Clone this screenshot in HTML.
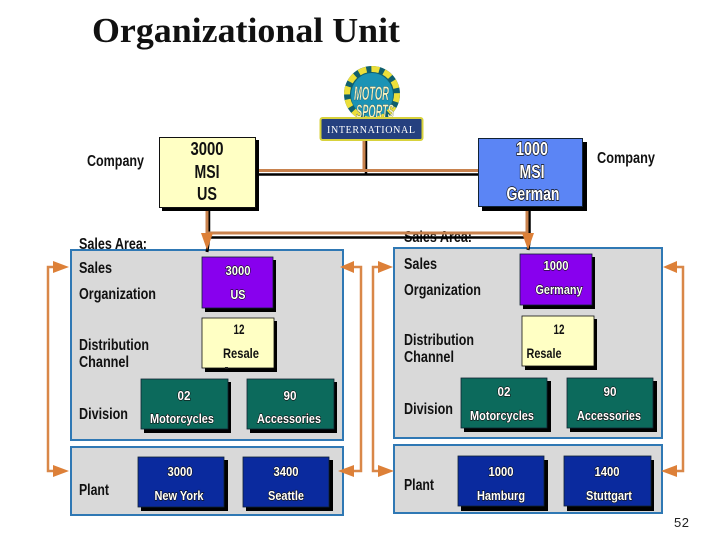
<!DOCTYPE html>
<html><head><meta charset="utf-8"><style>
html,body{margin:0;padding:0;background:#fff}
svg{display:block}
text{font-family:"Liberation Sans",sans-serif}
.l{font-size:16px;font-weight:bold;fill:#111}
.w{font-size:13px;font-weight:bold;fill:#fff;text-anchor:middle;stroke:#111;stroke-width:1.2;paint-order:stroke}
.k{font-size:14px;font-weight:bold;fill:#111;text-anchor:middle}
.big{font-size:18px;text-anchor:middle;font-weight:bold}
.sh{fill:#000}
</style></head><body>
<svg width="720" height="540" viewBox="0 0 720 540" xmlns="http://www.w3.org/2000/svg">
<rect width="720" height="540" fill="#fff"/>
<text x="92" y="42" textLength="308" lengthAdjust="spacingAndGlyphs" style="font-family:'Liberation Serif',serif;font-size:35px;font-weight:bold" fill="#111">Organizational Unit</text>

<!-- panels -->
<g fill="#d9d9d9" stroke="#2f78b4" stroke-width="2">
<rect x="71" y="250" width="272" height="190"/>
<rect x="71" y="447" width="272" height="68"/>
<rect x="394" y="248" width="268" height="190"/>
<rect x="394" y="445" width="268" height="68"/>
</g>

<!-- labels -->
<g class="l">
<text x="87" y="166" textLength="57" lengthAdjust="spacingAndGlyphs">Company</text>
<text x="597" y="163" textLength="58" lengthAdjust="spacingAndGlyphs">Company</text>
<text x="79" y="249" textLength="68" lengthAdjust="spacingAndGlyphs">Sales Area:</text>
<text x="404" y="242" textLength="68" lengthAdjust="spacingAndGlyphs">Sales Area:</text>
<text x="79" y="273" textLength="33" lengthAdjust="spacingAndGlyphs">Sales</text>
<text x="79" y="299" textLength="77" lengthAdjust="spacingAndGlyphs">Organization</text>
<text x="79" y="350" textLength="70" lengthAdjust="spacingAndGlyphs">Distribution</text>
<text x="79" y="367" textLength="50" lengthAdjust="spacingAndGlyphs">Channel</text>
<text x="79" y="419" textLength="49" lengthAdjust="spacingAndGlyphs">Division</text>
<text x="79" y="495" textLength="30" lengthAdjust="spacingAndGlyphs">Plant</text>
<text x="404" y="269" textLength="33" lengthAdjust="spacingAndGlyphs">Sales</text>
<text x="404" y="295" textLength="77" lengthAdjust="spacingAndGlyphs">Organization</text>
<text x="404" y="345" textLength="70" lengthAdjust="spacingAndGlyphs">Distribution</text>
<text x="404" y="362" textLength="50" lengthAdjust="spacingAndGlyphs">Channel</text>
<text x="404" y="414" textLength="49" lengthAdjust="spacingAndGlyphs">Division</text>
<text x="404" y="490" textLength="30" lengthAdjust="spacingAndGlyphs">Plant</text>
</g>

<!-- connectors -->
<g fill="none">
<path d="M256 174.500H478M366 140V174M209 208V237.500H529" stroke="#000" stroke-width="2.500"/>
<path d="M529.500 208V235" stroke="#000" stroke-width="2.500"/>
<path d="M256 170.500H478M364 140V170M207 208V233H527M527 208V235" stroke="#c8824e" stroke-width="3"/>
<path d="M209 237L207 252M530 237L528 250" stroke="#000" stroke-width="3"/>
</g>
<polygon points="201,233 213,233 207,250" fill="#dd8038"/>
<polygon points="522,233 534,233 528,250" fill="#dd8038"/>

<!-- side arrows -->
<g fill="none" stroke="#d98748" stroke-width="2.500">
<path d="M55 267H48V471H55"/>
<path d="M352 267H361V471H352"/>
<path d="M379 267H373V471H379"/>
<path d="M674 267H683V471H674"/>
</g>
<g fill="#dd8038">
<polygon points="69,267 53,261 53,273"/><polygon points="69,471 53,465 53,477"/>
<polygon points="340,267 354,261 354,273"/><polygon points="338,471 354,465 354,477"/>
<polygon points="393,267 378,261 378,273"/><polygon points="394,471 378,465 378,477"/>
<polygon points="663,267 677,261 677,273"/><polygon points="661,471 677,465 677,477"/>
</g>

<!-- company boxes -->
<rect x="162" y="140" width="97" height="71" class="sh"/>
<rect x="159.500" y="137.500" width="96" height="70" fill="#ffffc4" stroke="#111"/>
<rect x="482" y="142" width="105" height="69" class="sh"/>
<rect x="478.500" y="138.500" width="104" height="68" fill="#5b85f5" stroke="#123"/>
<g class="big" style="fill:#111">
<text x="207" y="155" textLength="33" lengthAdjust="spacingAndGlyphs">3000</text>
<text x="207" y="178" textLength="25" lengthAdjust="spacingAndGlyphs">MSI</text>
<text x="207" y="200" textLength="20" lengthAdjust="spacingAndGlyphs">US</text>
</g>
<g class="big" style="fill:#fff;stroke:#111;stroke-width:1.500;paint-order:stroke">
<text x="532" y="155" textLength="32" lengthAdjust="spacingAndGlyphs">1000</text>
<text x="532" y="178" textLength="25" lengthAdjust="spacingAndGlyphs">MSI</text>
<text x="533" y="200" textLength="53" lengthAdjust="spacingAndGlyphs">German</text>
</g>

<!-- logo -->
<ellipse cx="372" cy="94" rx="28" ry="28" fill="#0f5f6e"/>
<ellipse cx="372" cy="94" rx="25" ry="25" fill="none" stroke="#ecdf3a" stroke-width="6" stroke-dasharray="8 5"/>
<ellipse cx="372" cy="95" rx="21" ry="22" fill="#1b93b5"/>
<text x="354" y="100" textLength="35" lengthAdjust="spacingAndGlyphs" style="font-size:19px;font-weight:bold;font-style:italic" fill="#f5f3c0" stroke="#123" stroke-width=".3">MOTOR</text>
<text x="356" y="118" textLength="38" lengthAdjust="spacingAndGlyphs" style="font-size:19px;font-weight:bold;font-style:italic" fill="#f5f3c0" stroke="#123" stroke-width=".3">SPORTS</text>
<rect x="320.500" y="118" width="102" height="22" rx="2" fill="#25407f" stroke="#d8d23c" stroke-width="2"/>
<text x="371" y="133" text-anchor="middle" textLength="88" lengthAdjust="spacing" style="font-family:'Liberation Serif',serif;font-size:10px" fill="#fff">INTERNATIONAL</text>

<!-- inner boxes -->
<g class="sh">
<rect x="205" y="260" width="71" height="52"/><rect x="205" y="321" width="72" height="51"/>
<rect x="144" y="382" width="87" height="51"/><rect x="250" y="382" width="87" height="51"/>
<rect x="141" y="460" width="87" height="51"/><rect x="246" y="460" width="87" height="51"/>
<rect x="523" y="257" width="72" height="52"/><rect x="525" y="319" width="72" height="51"/>
<rect x="464" y="381" width="87" height="51"/><rect x="570" y="381" width="87" height="51"/>
<rect x="461" y="460" width="87" height="51"/><rect x="567" y="460" width="87" height="51"/>
</g>
<g stroke="#123" stroke-width=".8">
<rect x="202" y="257" width="71" height="51" fill="#8800ee"/>
<rect x="202" y="318" width="72" height="50" fill="#ffffc4" stroke="#111"/>
<rect x="141" y="379" width="87" height="50" fill="#0c6a5c"/>
<rect x="247" y="379" width="87" height="50" fill="#0c6a5c"/>
<rect x="138" y="457" width="86" height="50" fill="#0a2a9e"/>
<rect x="243" y="457" width="86" height="50" fill="#0a2a9e"/>
<rect x="520" y="254" width="72" height="51" fill="#8800ee"/>
<rect x="522" y="316" width="72" height="50" fill="#ffffc4" stroke="#111"/>
<rect x="461" y="378" width="86" height="50" fill="#0c6a5c"/>
<rect x="567" y="378" width="86" height="50" fill="#0c6a5c"/>
<rect x="458" y="456" width="86" height="50" fill="#0a2a9e"/>
<rect x="564" y="456" width="87" height="50" fill="#0a2a9e"/>
</g>

<g class="w">
<text x="238" y="275" textLength="25" lengthAdjust="spacingAndGlyphs">3000</text>
<text x="238" y="299" textLength="15" lengthAdjust="spacingAndGlyphs">US</text>
<text x="184" y="400" textLength="13" lengthAdjust="spacingAndGlyphs">02</text>
<text x="182" y="423" textLength="64" lengthAdjust="spacingAndGlyphs">Motorcycles</text>
<text x="290" y="400" textLength="13" lengthAdjust="spacingAndGlyphs">90</text>
<text x="289" y="423" textLength="64" lengthAdjust="spacingAndGlyphs">Accessories</text>
<text x="180" y="476" textLength="25" lengthAdjust="spacingAndGlyphs">3000</text>
<text x="179" y="500" textLength="49" lengthAdjust="spacingAndGlyphs">New York</text>
<text x="286" y="476" textLength="25" lengthAdjust="spacingAndGlyphs">3400</text>
<text x="286" y="500" textLength="36" lengthAdjust="spacingAndGlyphs">Seattle</text>
<text x="556" y="270" textLength="25" lengthAdjust="spacingAndGlyphs">1000</text>
<text x="559" y="294" textLength="47" lengthAdjust="spacingAndGlyphs">Germany</text>
<text x="504" y="396" textLength="13" lengthAdjust="spacingAndGlyphs">02</text>
<text x="502" y="420" textLength="64" lengthAdjust="spacingAndGlyphs">Motorcycles</text>
<text x="610" y="396" textLength="13" lengthAdjust="spacingAndGlyphs">90</text>
<text x="609" y="420" textLength="64" lengthAdjust="spacingAndGlyphs">Accessories</text>
<text x="501" y="476" textLength="25" lengthAdjust="spacingAndGlyphs">1000</text>
<text x="501" y="500" textLength="48" lengthAdjust="spacingAndGlyphs">Hamburg</text>
<text x="607" y="476" textLength="25" lengthAdjust="spacingAndGlyphs">1400</text>
<text x="609" y="500" textLength="46" lengthAdjust="spacingAndGlyphs">Stuttgart</text>
</g>
<g class="k">
<text x="239" y="334" textLength="11" lengthAdjust="spacingAndGlyphs">12</text>
<text x="241" y="358" textLength="36" lengthAdjust="spacingAndGlyphs">Resale</text>
<text x="559" y="334" textLength="11" lengthAdjust="spacingAndGlyphs">12</text>
<text x="544" y="358" textLength="35" lengthAdjust="spacingAndGlyphs">Resale</text>
</g>
<rect x="225" y="367" width="3" height="2" fill="#222"/>

<text x="674" y="527" textLength="15" style="font-size:13px" fill="#222">52</text>
</svg>
</body></html>
